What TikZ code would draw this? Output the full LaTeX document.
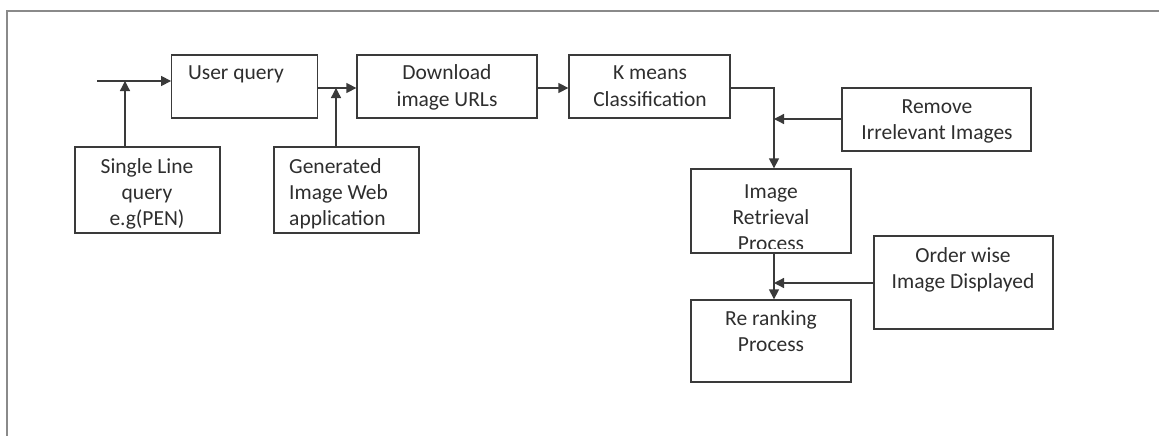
\documentclass[tikz,border=0pt]{standalone}
\usepackage{fontspec}
\setmainfont{Carlito}
\usetikzlibrary{arrows.meta}
\definecolor{linec}{HTML}{3A3A3A}
\definecolor{textc}{HTML}{2E2E2E}
\definecolor{framec}{HTML}{8A8A8A}
\tikzset{
  box/.style={draw=linec, line width=1.3pt, inner sep=0pt, fill=none},
  lbl/.style={text=textc, align=center, inner sep=0pt, font=\fontsize{21.5}{26}\selectfont},
  lbll/.style={lbl, align=left},
  arr/.style={draw=linec, line width=1.3pt, -{Triangle[length=10pt,width=10pt]}},
  frame/.style={draw=framec, line width=1.6pt}
}
\begin{document}
\begin{tikzpicture}[x=1pt,y=-1pt]
\useasboundingbox (0,0) rectangle (1159,436);
% frame
\draw[frame] (7,436) -- (7,11) -- (1159,11);
% boxes
\node[box, minimum width=145.5pt, minimum height=63pt] (uq) at (244.5,86.5) {};
\node[box, minimum width=145pt, minimum height=86pt] (sl) at (147.5,190) {};
\node[box, minimum width=145pt, minimum height=86pt] (gen) at (346.5,190) {};
\node[box, minimum width=180pt, minimum height=63pt] (dl) at (447,86.5) {};
\node[box, minimum width=161pt, minimum height=63pt] (km) at (649.5,86.5) {};
\node[box, minimum width=189pt, minimum height=63pt] (rm) at (936.5,119.5) {};
\node[box, minimum width=160pt, minimum height=84pt] (ir) at (771,211) {};
\node[box, minimum width=179pt, minimum height=93pt] (ow) at (963.5,282.5) {};
\node[box, minimum width=160pt, minimum height=82pt] (rr) at (771,341) {};
% labels (anchor=base is the baseline of the last line)
\node[lbl, anchor=base] (tuq) at (236,80) {User query};
\node[lbl, anchor=base] (tsl) at (147,225) {Single Line\\query\\e.g(PEN)};
\node[lbll, anchor=base west] (tgen) at (289,225) {Generated\\Image Web\\application};
\node[lbl, anchor=base] (tdl) at (447,106) {Download\\image URLs};
\node[lbl, anchor=base] (tkm) at (650,106) {K means\\Classification};
\node[lbl, anchor=base] (trm) at (937,139) {Remove\\Irrelevant Images};
\begin{scope}
  \clip ([yshift=5pt]ir.south west) rectangle (ir.north east);
  \node[lbl, anchor=base] (tir) at (771,250) {Image\\Retrieval\\Process};
\end{scope}
\node[lbl, anchor=base] (tow) at (963,288) {Order wise\\Image Displayed};
\node[lbl, anchor=base] (trr) at (771,351) {Re ranking\\Process};
% junction coordinates
\coordinate (in) at (97,81);
\coordinate (j1) at (125,81);
\coordinate (j2) at (336,88);
\coordinate (j3) at (774,119);
\coordinate (j4) at (774,283);
% connectors
\draw[arr] (in) -- (in -| uq.west);
\draw[arr] (j1 |- sl.north) -- (j1);
\draw[arr] (uq.east |- j2) -- (j2 -| dl.west);
\draw[arr] (j2 |- gen.north) -- (j2);
\draw[arr] (dl.east |- j2) -- (j2 -| km.west);
\draw[arr] (km.east |- j2) -| (j3 |- ir.north);
\draw[arr] (rm.west |- j3) -- (j3);
\draw[arr] (j3 |- ir.south) -- (j3 |- rr.north);
\draw[arr] (ow.west |- j4) -- (j4);
\end{tikzpicture}
\end{document}
